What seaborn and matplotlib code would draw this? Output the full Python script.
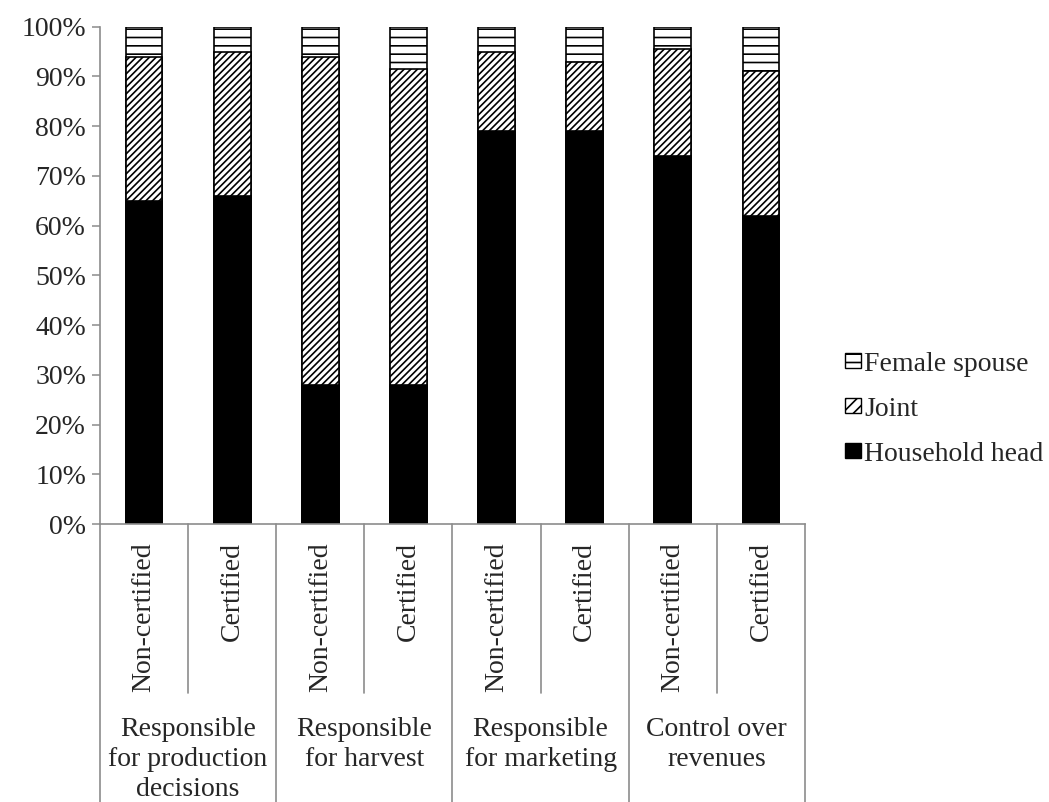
import numpy as np
import pandas as pd
import matplotlib
matplotlib.use("Agg")
import matplotlib.pyplot as plt
import seaborn as sns
from matplotlib.patches import Patch

# data (percent of households)
groups = [
    "Responsible\nfor production\ndecisions",
    "Responsible\nfor harvest",
    "Responsible\nfor marketing",
    "Control over\nrevenues",
]
status = ["Non-certified", "Certified"]
household_head = [65, 66, 28, 28, 79, 79, 74, 62]
joint = [29, 29, 66, 63.5, 16, 14, 21.5, 29]
female_spouse = [6, 5, 6, 8.5, 5, 7, 4.5, 9]

sns.set_style("white")
plt.rcParams["font.family"] = ["Liberation Serif", "DejaVu Serif"]
plt.rcParams["hatch.linewidth"] = 1.2
plt.rcParams["hatch.color"] = "black"

bar_ids = [f"{g}|{s}" for g in groups for s in status]
df = pd.DataFrame({
    "bar": bar_ids,
    "household": household_head,
    "joint": joint,
    "female": female_spouse,
})
df["cum_joint"] = df["household"] + df["joint"]
df["cum_female"] = df["cum_joint"] + df["female"]

fig = plt.figure(figsize=(10.49, 8.02), dpi=100)
ax = fig.add_axes([0.0953, 0.3466, 0.6721, 0.6201])

common = dict(x="bar", order=bar_ids, width=0.417, errorbar=None,
              edgecolor="black", linewidth=1.2, saturation=1, ax=ax)
sns.barplot(data=df, y="cum_female", color="white", hatch="--", **common)
sns.barplot(data=df, y="cum_joint", color="white", hatch="/////", **common)
sns.barplot(data=df, y="household", color="black", **common)

grey = "#8c8c8c"
ax.set_ylim(0, 100)
ax.set_xlim(-0.5, len(bar_ids) - 0.5)
ax.set_yticks(np.arange(0, 101, 10))
ax.set_yticklabels([f"{v}%" for v in range(0, 101, 10)], fontsize=20)
ax.tick_params(axis="y", left=True, length=6, width=1.1, color=grey, pad=4)
ax.set_xticks([])
ax.set_xlabel("")
ax.set_ylabel("")
for side in ["top", "right"]:
    ax.spines[side].set_visible(False)
for side in ["left", "bottom"]:
    ax.spines[side].set_color(grey)
    ax.spines[side].set_linewidth(1.2)

# hierarchical category axis
tr = ax.get_xaxis_transform()
for i in range(len(bar_ids) + 1):
    x = i - 0.5
    y_end = -0.6 if i % 2 == 0 else -0.34
    ax.plot([x, x], [0, y_end], color=grey, lw=1.2, transform=tr, clip_on=False)
for i, b in enumerate(bar_ids):
    ax.text(i, -0.036, b.split("|")[1], rotation=90, ha="center", va="top",
            fontsize=20, transform=tr)
for j, g in enumerate(groups):
    ax.text(2 * j + 0.5, -0.388, g, ha="center", va="top", fontsize=20,
            linespacing=1.26, transform=tr)

handles = [
    Patch(facecolor="white", edgecolor="black", hatch="--", label="Female spouse"),
    Patch(facecolor="white", edgecolor="black", hatch="///", label="Joint"),
    Patch(facecolor="black", edgecolor="black", label="Household head"),
]
fig.legend(handles=handles, loc="center left", bbox_to_anchor=(0.806, 0.49),
           frameon=False, fontsize=20, handlelength=0.55, handleheight=0.47,
           handletextpad=0.12, labelspacing=0.72, borderpad=0, borderaxespad=0)

fig.savefig("out.png", dpi=100)
